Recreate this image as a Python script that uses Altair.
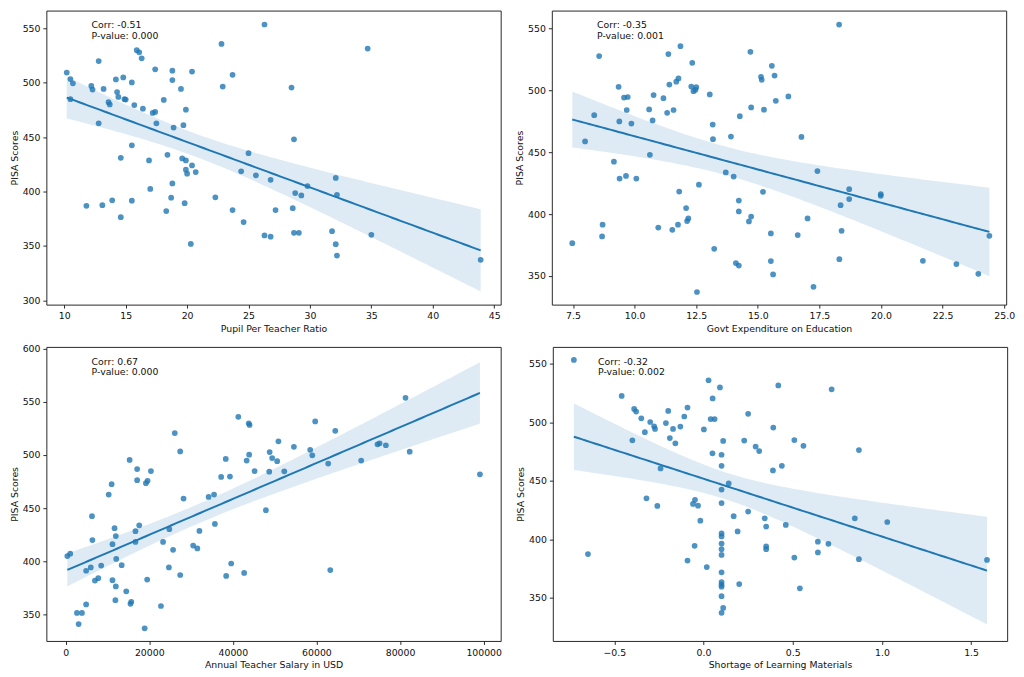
import altair as alt
import numpy as np
import pandas as pd

# ---------------- data ----------------
# Panel 1: Pupil Per Teacher Ratio
p1_x = [26.3, 22.8, 34.7, 15.9, 16.1, 16.3, 12.8, 10.2, 17.4, 18.8, 20.4, 23.7, 10.5, 14.2, 14.8,
        18.8, 10.7, 15.5, 12.2, 12.3, 13.2, 19.5, 22.9, 28.5, 14.3, 14.4, 10.5, 14.9, 15.0, 13.6,
        13.7, 15.7, 18.1, 16.4, 19.9, 17.2, 17.4, 12.8, 17.5, 19.7, 18.9, 28.7, 15.5, 25.0, 14.6,
        18.4, 16.9, 19.6, 19.9, 20.4, 19.9, 20.0, 20.7, 24.4, 25.6, 26.8, 32.1, 18.8, 17.0, 29.8,
        28.8, 29.3, 32.2, 11.8, 13.1, 13.9, 15.5, 18.7, 19.8, 22.3, 18.3, 23.7, 27.2, 28.6, 14.6,
        24.6, 26.3, 26.8, 28.7, 29.1, 31.8, 35.0, 20.3, 32.1, 32.2, 43.9]
p1_y = [553.6, 535.7, 531.5, 530.0, 528.0, 522.5, 520.0, 509.4, 512.4, 511.2, 510.3, 507.3, 503.4, 503.1, 504.9,
        502.5, 499.5, 500.4, 497.1, 493.8, 494.4, 494.4, 496.5, 495.6, 491.5, 487.0, 484.9, 484.9, 484.6, 482.2,
        480.1, 479.5, 484.3, 476.2, 475.3, 472.3, 473.2, 462.8, 462.8, 461.0, 458.9, 448.1, 442.5, 435.3, 431.1,
        433.8, 428.7, 430.5, 428.7, 424.0, 420.1, 416.5, 418.0, 418.6, 415.0, 410.8, 412.6, 407.5, 402.4, 405.1,
        398.6, 396.5, 397.1, 386.9, 387.5, 392.0, 391.7, 394.4, 389.3, 394.7, 382.1, 383.0, 383.0, 384.8, 376.5,
        372.0, 359.7, 358.5, 362.1, 362.1, 363.6, 360.3, 351.9, 351.7, 341.2, 337.3]

# Panel 2: Govt Expenditure on Education
p2_x = [18.3, 11.86, 8.56, 14.7, 11.37, 12.34, 15.57, 11.78, 11.69, 15.13, 15.16, 15.68, 11.41, 9.35, 12.3,
        12.5, 12.39, 12.47, 13.05, 10.77, 16.24, 9.57, 9.72, 11.17, 15.73, 14.73, 9.68, 10.59, 11.58, 11.32,
        15.25, 14.27, 8.36, 9.38, 10.73, 9.87, 13.17, 13.91, 16.77, 13.18, 7.99, 10.62, 9.16, 17.42, 13.7,
        14.02, 9.65, 9.39, 10.07, 12.61, 11.81, 15.21, 18.71, 18.71, 19.99, 19.99, 14.23, 12.09, 18.36, 14.23,
        14.73, 12.18, 12.13, 14.64, 17.02, 8.7, 11.76, 10.96, 11.53, 8.68, 15.53, 16.62, 18.4, 24.4,
        7.47, 13.23, 14.11, 14.23, 15.53, 18.31, 21.7, 23.06, 15.62, 23.95, 17.26, 12.53]
p2_y = [553.1, 535.6, 527.7, 531.1, 529.3, 522.2, 519.8, 509.6, 507.0, 510.9, 508.5, 511.9, 504.6, 502.8, 503.0,
        502.5, 499.3, 500.4, 496.7, 496.2, 495.1, 494.1, 494.6, 493.6, 491.5, 486.2, 484.1, 484.6, 484.1, 481.8,
        484.4, 479.1, 479.9, 474.9, 475.7, 473.1, 472.3, 462.6, 462.3, 460.5, 458.7, 447.9, 442.4, 434.8, 433.7,
        430.3, 430.8, 428.7, 428.7, 423.8, 418.2, 418.0, 420.1, 412.2, 416.1, 414.8, 410.9, 404.9, 407.2, 402.2,
        398.0, 396.5, 394.4, 394.1, 396.5, 391.5, 391.5, 389.1, 387.3, 382.0, 384.4, 383.1, 386.5, 382.5,
        376.5, 372.0, 360.5, 358.4, 362.1, 363.6, 362.3, 359.7, 351.3, 351.8, 341.3, 337.1]

# Panel 3: Annual Teacher Salary in USD
p3_x = [81300, 41300, 43800, 44000, 59700, 26100, 64500, 50900, 74600, 75100, 76600, 54600, 58500, 27400, 48800,
        82300, 43900, 59000, 49400, 38300, 43300, 50600, 70700, 15300, 62800, 17100, 20400, 45200, 48700, 52300,
        99100, 37200, 39300, 17100, 19600, 19200, 11000, 10300, 34200, 35500, 28200, 47900, 6300, 17600, 35700,
        11700, 24800, 16700, 32000, 12000, 6400, 16700, 23300, 11200, 30500, 31500, 25700, 400, 1100, 12100,
        39600, 13400, 8500, 6000, 24700, 4900, 63300, 42700, 27400, 38400, 7800, 7000, 11200, 19500, 12000,
        14500, 11900, 15700, 15500, 4900, 22800, 2700, 3900, 3100, 18900]
p3_y = [553.7, 535.9, 529.8, 528.2, 531.6, 520.6, 522.7, 512.9, 510.1, 511.0, 509.2, 507.7, 504.9, 503.4, 502.8,
        503.1, 500.3, 499.7, 497.2, 496.3, 494.8, 494.2, 494.8, 495.4, 492.0, 486.8, 485.0, 485.0, 484.4, 484.7,
        481.9, 479.4, 479.8, 476.4, 475.8, 473.6, 472.7, 462.9, 460.7, 462.9, 459.2, 448.2, 442.6, 434.0, 435.3,
        431.3, 430.4, 428.5, 428.8, 423.9, 420.2, 418.4, 418.4, 416.3, 415.0, 412.3, 411.0, 405.2, 407.4, 402.5,
        398.2, 396.6, 396.3, 394.5, 394.5, 391.4, 392.0, 389.3, 387.4, 386.5, 384.4, 382.2, 382.5, 383.1, 376.7,
        372.1, 363.8, 362.3, 360.4, 359.8, 358.3, 351.8, 351.8, 341.4, 337.4]

# Panel 4: Shortage of Learning Materials
p4_x = [-0.727, -0.459, 0.028, 0.092, 0.419, 0.718, 0.051, -0.389, -0.378, -0.09, -0.198, -0.108, 0.25, -0.349, 0.04,
        0.062, -0.299, -0.211, -0.277, -0.272, -0.13, -0.171, -0.329, 0.002, 0.391, -0.399, -0.189, -0.158, 0.11, 0.228,
        0.509, 0.292, 0.312, 0.56, 0.871, 0.05, 0.101, 0.101, 0.439, 0.389, -0.241, 0.141, 0.101, -0.32, -0.048,
        -0.059, -0.031, -0.259, 0.101, 0.25, 0.169, 0.343, -0.018, 0.848, 1.03, 0.351, 0.461, 0.191, 0.101, 0.101,
        0.641, 0.7, 0.101, -0.05, 0.351, 0.351, 0.101, -0.648, 0.641, 0.101, 0.509, 0.871, 1.589, -0.09, 0.018,
        0.101, 0.101, 0.101, 0.101, 0.2, 0.54, 0.101, 0.11, 0.101]
p4_y = [553.4, 522.6, 536.0, 529.9, 531.6, 528.2, 520.4, 511.5, 509.2, 512.6, 509.8, 505.0, 507.3, 503.4, 502.8,
        502.8, 500.3, 499.4, 496.6, 494.4, 496.4, 494.4, 491.6, 493.9, 495.5, 484.6, 486.6, 482.1, 484.1, 484.4,
        484.9, 479.3, 475.4, 479.9, 476.3, 473.5, 472.3, 462.8, 462.8, 458.9, 460.6, 447.8, 442.5, 435.0, 433.8,
        430.2, 428.8, 428.5, 431.0, 423.7, 419.8, 417.9, 415.9, 417.9, 414.8, 410.9, 412.3, 406.7, 405.0, 402.5,
        398.0, 396.1, 396.4, 394.4, 393.9, 391.6, 391.6, 387.4, 388.8, 386.6, 384.4, 383.0, 382.4, 381.8, 376.3,
        371.8, 363.4, 361.2, 359.5, 361.7, 358.1, 351.4, 341.3, 337.2]

x_titles = ["Pupil Per Teacher Ratio", "Govt Expenditure on Education",
            "Annual Teacher Salary in USD", "Shortage of Learning Materials"]
corr_labels = ["Corr: -0.51", "Corr: -0.35", "Corr: 0.67", "Corr: -0.32"]
p_labels = ["P-value: 0.000", "P-value: 0.001", "P-value: 0.000", "P-value: 0.002"]

x_domains = [[8.54, 45.53], [6.64, 25.08], [-4617, 104069], [-0.845, 1.702]]
y_domains = [[296.1, 566.4], [326.9, 564.4], [325.5, 601.5], [313.1, 564.5]]
x_ticks = [[10, 15, 20, 25, 30, 35, 40, 45],
           [7.5, 10.0, 12.5, 15.0, 17.5, 20.0, 22.5, 25.0],
           [0, 20000, 40000, 60000, 80000, 100000],
           [-0.5, 0.0, 0.5, 1.0, 1.5]]
x_formats = ["d", ".1f", "d", ".1f"]
y_ticks = [[300, 350, 400, 450, 500, 550],
           [350, 400, 450, 500, 550],
           [350, 400, 450, 500, 550, 600],
           [350, 400, 450, 500, 550]]

BLUE = "#1f77b4"
W, H = 462, 299


def fit_frame(xs, ys):
    x = np.asarray(xs, dtype=float)
    y = np.asarray(ys, dtype=float)
    n = len(x)
    b, a = np.polyfit(x, y, 1)
    grid = np.linspace(x.min(), x.max(), 100)
    yhat = a + b * grid
    resid = y - (a + b * x)
    s = np.sqrt(np.sum(resid ** 2) / (n - 2))
    xm = x.mean()
    sxx = np.sum((x - xm) ** 2)
    se = s * np.sqrt(1.0 / n + (grid - xm) ** 2 / sxx)
    t = 1.99
    return pd.DataFrame({"x": grid, "fit": yhat, "lo": yhat - t * se, "hi": yhat + t * se})


def panel(i, xs, ys):
    pts = pd.DataFrame({"x": xs, "y": ys})
    curve = fit_frame(xs, ys)
    xenc = dict(scale=alt.Scale(domain=x_domains[i], nice=False, zero=False),
                axis=alt.Axis(values=x_ticks[i], format=x_formats[i]),
                title=x_titles[i])
    yscale = alt.Scale(domain=y_domains[i], nice=False, zero=False)
    yaxis = alt.Axis(values=y_ticks[i], format="d")

    dots = alt.Chart(pts).mark_circle(color=BLUE, opacity=0.8, size=34).encode(
        x=alt.X("x:Q", **xenc),
        y=alt.Y("y:Q", scale=yscale, axis=yaxis, title="PISA Scores"),
    )
    band = alt.Chart(curve).mark_area(color=BLUE, opacity=0.15).encode(
        x=alt.X("x:Q", **xenc),
        y=alt.Y("lo:Q", scale=yscale, axis=yaxis, title="PISA Scores"),
        y2="hi:Q",
    )
    line = alt.Chart(curve).mark_line(color=BLUE, strokeWidth=2).encode(
        x=alt.X("x:Q", **xenc),
        y=alt.Y("fit:Q", scale=yscale, axis=yaxis, title="PISA Scores"),
    )
    lab = pd.DataFrame({"t": [corr_labels[i], p_labels[i]]})
    txt1 = alt.Chart(lab.iloc[[0]]).mark_text(
        align="left", baseline="middle", fontSize=9.5, font="DejaVu Sans", color="#111",
    ).encode(x=alt.value(46), y=alt.value(15), text="t:N")
    txt2 = alt.Chart(lab.iloc[[1]]).mark_text(
        align="left", baseline="middle", fontSize=9.5, font="DejaVu Sans", color="#111",
    ).encode(x=alt.value(46), y=alt.value(26), text="t:N")
    return alt.layer(dots, band, line, txt1, txt2).properties(width=W, height=H)


panels = [panel(0, p1_x, p1_y), panel(1, p2_x, p2_y), panel(2, p3_x, p3_y), panel(3, p4_x, p4_y)]

chart = alt.vconcat(
    alt.hconcat(panels[0], panels[1], spacing=12),
    alt.hconcat(panels[2], panels[3], spacing=12),
    spacing=10,
).properties(padding={"top": -4, "left": 0, "right": 0, "bottom": 0}).configure(
    background="white"
).configure_view(
    stroke="#262626", strokeWidth=1
).configure_axis(
    domain=False, grid=False, ticks=True, tickColor="#262626", tickSize=3.5, tickWidth=1,
    labelFont="DejaVu Sans", labelFontSize=9.5, labelColor="#111", labelPadding=3,
    titleFont="DejaVu Sans", titleFontSize=9.5, titleFontWeight="normal", titleColor="#111",
    titlePadding=3,
)

chart.save("out.html", embed_options={"renderer": "svg", "actions": False})
